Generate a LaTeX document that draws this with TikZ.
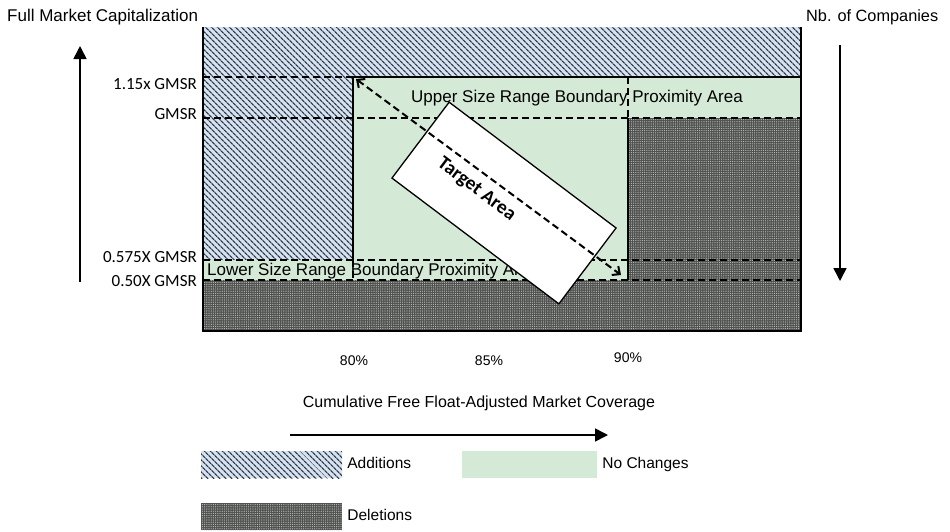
\documentclass[tikz,border=0pt]{standalone}
\usepackage{fontspec}
\setmainfont{Liberation Sans}
\newfontfamily\calfont{Carlito}
\usepackage{tikz}
\usepackage{xcolor}
\usetikzlibrary{positioning, arrows.meta, patterns, patterns.meta, calc}

\definecolor{addbg}{RGB}{214,226,238}
\definecolor{addln}{RGB}{45,58,78}
\definecolor{nochg}{RGB}{213,234,214}
\definecolor{delbg}{RGB}{80,82,80}
\definecolor{deldot}{RGB}{190,194,190}

\begin{document}
\begin{tikzpicture}[
  x=1pt, y=-1pt,
  additions/.style={fill=addbg, postaction={pattern={Lines[angle=-45, distance=4pt, line width=1.3pt]}, pattern color=addln}},
  deletions/.style={fill=delbg, postaction={pattern={Dots[distance=2.2pt, radius=0.6pt]}, pattern color=deldot}},
  nochanges/.style={fill=nochg},
  border/.style={line width=2.2pt},
  bound/.style={line width=2pt, dash pattern=on 7pt off 4pt},
  txt/.style={font=\fontsize{17}{19}\selectfont, inner sep=0pt},
  tick/.style={font=\calfont\fontsize{17}{19}\selectfont, inner sep=0pt, anchor=east},
  pct/.style={font=\fontsize{14}{16}\selectfont, inner sep=0pt},
  swatch/.style={minimum width=141pt, minimum height=27pt, inner sep=0pt},
  legtxt/.style={font=\fontsize{15.5}{17}\selectfont, inner sep=0pt, text height=11.5pt, text depth=3.5pt, right=5pt of #1},
  axis/.style={line width=1.6pt, -{Triangle[length=13pt, width=13pt]}},
  >={Straight Barb[length=6pt, width=11pt]}
]
\useasboundingbox (0,0) rectangle (950,531);

% Regions
\path[additions] (203,27) -- (801,27) -- (801,77) -- (353,77) -- (353,260) -- (203,260) -- cycle;
\path[nochanges] (353,77) -- (801,77) -- (801,118) -- (628,118) -- (628,280) -- (203,280) -- (203,260) -- (353,260) -- cycle;
\path[deletions] (628,118) -- (801,118) -- (801,330) -- (203,330) -- (203,280) -- (628,280) -- cycle;

% Size range boundaries
\draw[bound] (203,77) -- (353,77);
\draw[bound] (203,118) -- (801,118);
\draw[bound] (628,77) -- (628,118);
\draw[bound] (203,260) -- (801,260);
\draw[bound] (203,280) -- (801,280);
\draw[bound] (353,260) -- (353,280);

% Borders
\draw[border] (203,27) -- (203,331) -- (801,331) -- (801,27);
\draw[border] (353,260) -- (353,77) -- (801,77);
\draw[border] (628,118) -- (628,280);

% Proximity areas
\node[txt, anchor=west] (upper) at (411,98) {Upper Size Range Boundary Proximity Area};
\node[txt, anchor=west] (lower) at (207,271) {Lower Size Range Boundary Proximity Area};

% Target area
\node[draw, fill=white, line width=1.3pt, rotate=-37, minimum width=209pt, minimum height=95pt, inner sep=0pt,
  font=\calfont\bfseries\fontsize{19.5}{21}\selectfont] (target) at (504,203)
  {\raisebox{-6pt}[\height][\depth]{\hspace*{-60pt}Target Area}};
\coordinate (tstart) at (356,79);
\coordinate (tend) at (621,275);
\draw[bound, <->] (tstart) -- (tend);

% Size range ticks
\node[tick] (t115) at (197,84) {1.15x GMSR};
\node[tick] (tgmsr) at (197,114) {GMSR};
\node[tick] (t0575) at (197,257) {0.575X GMSR};
\node[tick] (t050) at (197,281) {0.50X GMSR};

% Axes
\node[txt, anchor=west] (capt) at (7,17) {Full Market Capitalization};
\node[txt, anchor=west, font=\fontsize{16.3}{18}\selectfont] (nbco) at (806,17) {Nb. of Companies};
\coordinate (capTail) at (80,282);
\coordinate (capHead) at (80,46);
\draw[axis] (capTail) -- (capHead);
\coordinate (nbTail) at (840,45);
\coordinate (nbHead) at (840,281);
\draw[axis] (nbTail) -- (nbHead);

% Coverage
\node[pct] (p80) at (354,361) {80\%};
\node[pct] (p85) at (489,361) {85\%};
\node[pct] (p90) at (628,358) {90\%};
\node[txt, font=\fontsize{16}{18}\selectfont] (cov) at (479,403) {Cumulative Free Float-Adjusted Market Coverage};
\coordinate (covTail) at (290,435);
\coordinate (covHead) at (608,435);
\draw[axis] (covTail) -- (covHead);

% Legend
\node[swatch, additions] (addsw) at (271.5,464.5) {};
\node[legtxt=addsw] (addtxt) {Additions};
\node[swatch, nochanges, minimum width=135pt] (nochsw) at (529.5,464.5) {};
\node[legtxt=nochsw] (nochtxt) {No Changes};
\node[swatch, deletions] (delsw) at (271.5,516.5) {};
\node[legtxt=delsw] (deltxt) {Deletions};

\end{tikzpicture}
\end{document}
